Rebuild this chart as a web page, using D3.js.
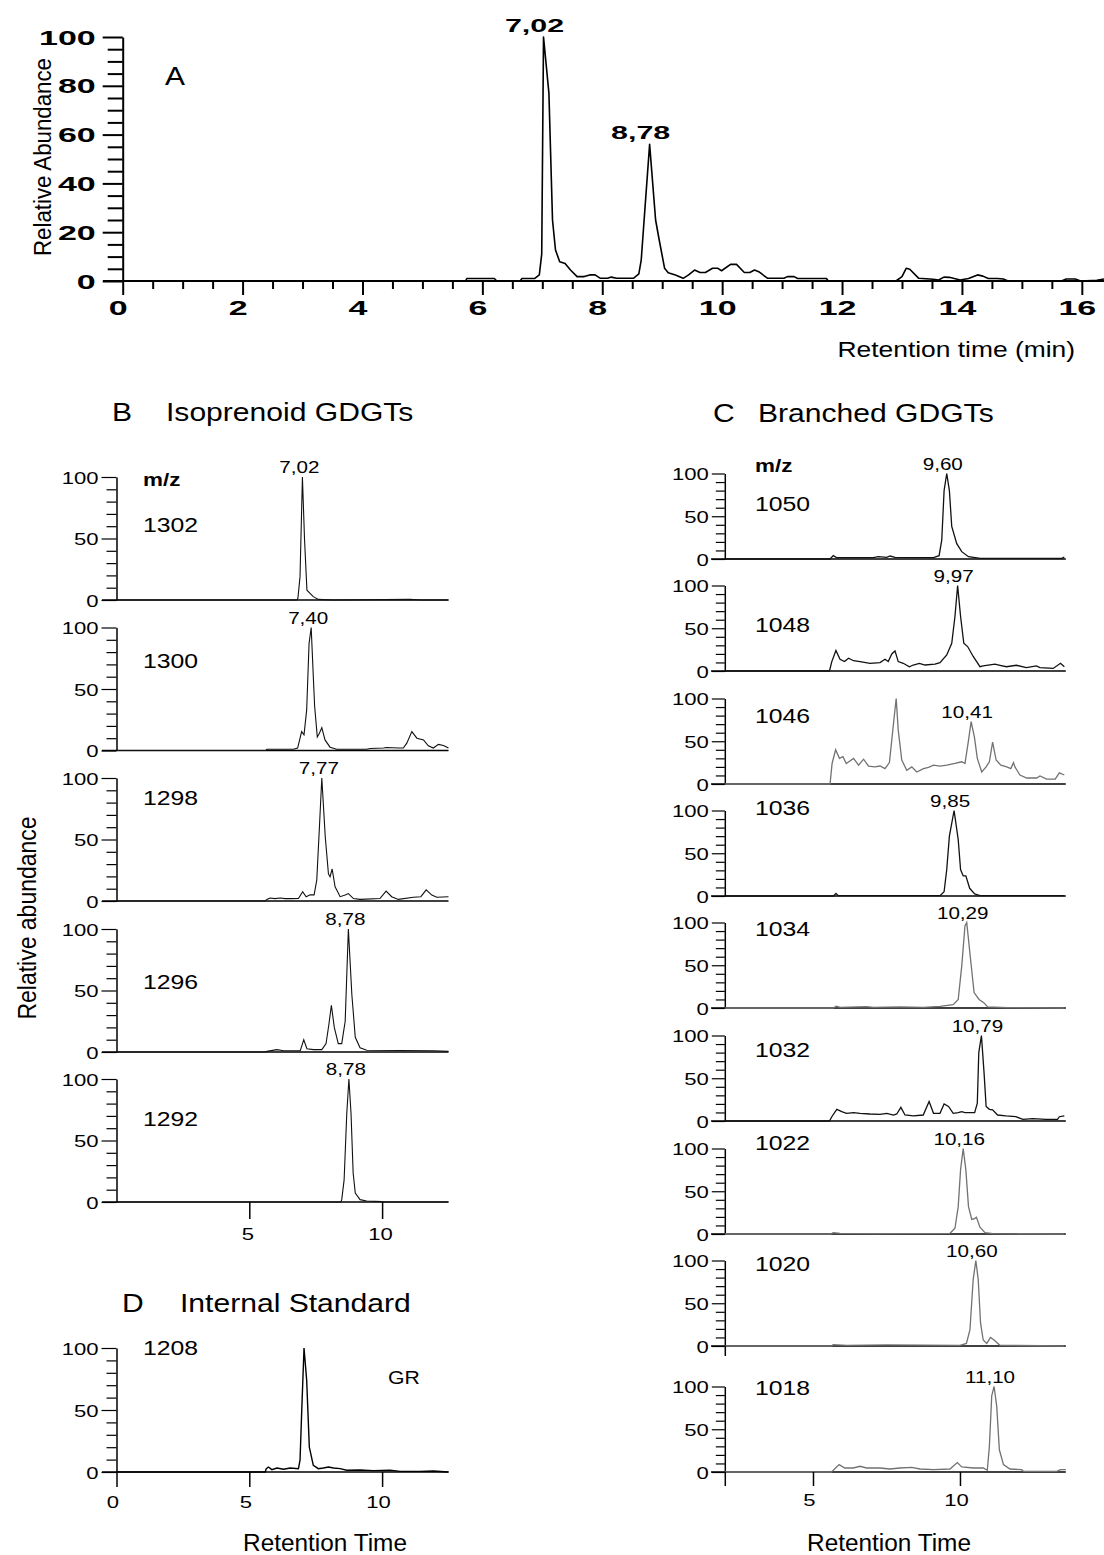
<!DOCTYPE html>
<html>
<head>
<meta charset="utf-8">
<script src="https://cdn.jsdelivr.net/npm/d3@7"></script>
<style>
  body { margin: 0; background: #fff; }
  svg { display: block; }
  text { font-family: "Liberation Sans", Arial, Helvetica, sans-serif; fill: #000; }
</style>
</head>
<body>
<div id="chart"></div>
<script>
// ---- data: [retention time (min), relative abundance (%)] ----
const traceA = [[0,0],[5.72,0],[5.74,1],[6.2,1],[6.24,0],[6.63,0],[6.66,1],[6.87,1],[6.95,2.5],[6.99,11],[7.02,100],[7.11,77],[7.17,25],[7.22,12.7],[7.29,7.9],[7.38,7.2],[7.47,4.5],[7.58,1.8],[7.70,1.8],[7.79,2.5],[7.88,2.5],[7.97,1.1],[8.09,1.1],[8.15,1.6],[8.24,1.1],[8.52,1.1],[8.61,2.9],[8.65,8.6],[8.71,29],[8.79,56],[8.89,25],[8.95,16.8],[9.04,5.2],[9.10,3.4],[9.22,2.5],[9.35,1.1],[9.44,2.5],[9.54,4.5],[9.63,3.5],[9.72,3.5],[9.84,5.2],[9.93,5.2],[9.99,4.2],[10.14,6.8],[10.24,6.8],[10.37,3.5],[10.46,3.5],[10.54,4.5],[10.61,3.8],[10.76,1.1],[11.03,1.1],[11.09,1.8],[11.20,1.8],[11.26,1],[11.74,1],[11.77,0],[12.90,0],[13.0,1.8],[13.07,5.2],[13.13,4.8],[13.28,1.1],[13.52,0.7],[13.61,0.4],[13.70,1.6],[13.79,1.5],[13.97,0.4],[14.11,1],[14.26,2.5],[14.35,2],[14.44,1],[14.59,1],[14.69,0.8],[14.77,0],[15.66,0],[15.74,0.8],[15.89,0.8],[15.98,0],[16.25,0.3],[16.37,0.8]];
const peaksA = ['7,02', '8,78'];

// B: isoprenoid GDGTs
const b1302 = [[0,0],[6.79,0],[6.83,1.4],[6.91,19],[7.0,100],[7.08,49],[7.17,8],[7.26,6],[7.41,2.7],[7.6,0.5],[8.17,0],[11.05,0.5],[11.5,0],[12.5,0]];
const b1300 = [[0,0],[5.62,0],[5.66,1],[6.66,1],[6.82,2],[6.97,15.4],[7.06,12.7],[7.16,33],[7.25,87],[7.33,100],[7.41,60],[7.46,36],[7.56,11],[7.64,14],[7.73,18.6],[7.85,8.6],[8.04,2.7],[8.29,1],[9.42,1],[9.55,1.6],[10.05,2],[10.17,2.4],[10.61,2],[10.80,2],[10.93,6],[11.12,15.4],[11.31,10],[11.56,8.6],[11.74,3.8],[11.93,2],[12.12,5],[12.31,4],[12.5,2]];
const b1298 = [[0,0],[5.6,0],[5.66,1.3],[5.78,2.4],[5.97,1.9],[6.16,2.4],[6.35,1.9],[6.54,1.9],[6.85,2],[7.01,7.5],[7.14,3.5],[7.29,5],[7.44,5],[7.54,17],[7.64,60],[7.73,100],[7.86,52],[7.98,22],[8.04,19.7],[8.12,26],[8.23,11.6],[8.42,3.5],[8.61,4.8],[8.73,6],[8.92,2],[9.17,1.3],[9.92,2],[10.15,8],[10.36,3.5],[10.61,1.3],[11.18,3],[11.46,3.5],[11.66,9],[11.87,4.8],[12.06,3],[12.5,3.5]];
const b1296 = [[0,0],[5.6,0],[5.66,0.5],[6.04,1.9],[6.29,1],[6.92,1],[7.05,10],[7.17,2.7],[7.42,1.9],[7.73,1.9],[7.89,6.8],[8.0,23],[8.09,38],[8.2,20],[8.35,6.8],[8.48,6.8],[8.61,25],[8.73,100],[8.86,47],[8.99,12],[9.17,3.5],[9.42,1.4],[11.93,1],[12.5,0.5]];
const b1292 = [[0,0],[8.45,0],[8.48,1.9],[8.57,18],[8.67,72],[8.75,100],[8.83,72],[8.91,23.6],[8.99,7.3],[9.17,1.9],[9.42,0.8],[9.99,0.3],[10.05,0],[12.5,0]];
const massesB = ['1302', '1300', '1298', '1296', '1292'];
const peaksB = ['7,02', '7,40', '7,77', '8,78', '8,78'];
const tracesB = [b1302, b1300, b1298, b1296, b1292];

// C: branched GDGTs
const c1050 = [[2,0],[5.58,0],[5.69,3.9],[5.80,1.6],[6.14,1.6],[7.05,1.6],[7.22,2.7],[7.51,1.9],[7.62,3.5],[7.79,1.9],[9.10,1.6],[9.29,3.9],[9.38,22],[9.46,80],[9.55,100],[9.64,80],[9.72,38],[9.89,18],[10.06,8.6],[10.29,2.7],[10.69,0.8],[13.46,0.8],[13.55,2.3]];
const c1048 = [[2,0],[5.56,0],[5.64,11],[5.78,24],[5.92,13.7],[6.07,11],[6.21,15],[6.38,12],[6.60,11],[6.94,9],[7.28,9.8],[7.45,13.7],[7.56,11],[7.68,20],[7.79,23.5],[7.90,11],[8.07,9],[8.28,5],[8.41,7],[8.62,9],[8.81,7],[9.15,8],[9.32,9.8],[9.55,18.8],[9.72,32.5],[9.83,64],[9.92,100],[10.02,64],[10.13,32.5],[10.26,28.6],[10.45,17],[10.68,5],[10.79,6],[11.19,8],[11.36,6.7],[11.58,5],[11.92,6.7],[12.26,4],[12.60,6],[12.72,4],[13.17,3],[13.42,9],[13.55,5]];
const c1046 = [[2,0],[5.58,0],[5.65,24],[5.77,40],[5.90,30],[6.02,32],[6.13,24],[6.38,30],[6.55,22],[6.72,29],[6.89,21],[7.11,20],[7.28,21],[7.45,18],[7.60,25],[7.74,71],[7.83,100],[7.90,63],[8.02,28],[8.19,16],[8.36,20],[8.53,14],[8.76,18],[8.93,19.5],[9.10,22],[9.32,21],[9.55,22],[9.83,24],[10.06,26],[10.17,24],[10.29,51],[10.38,73],[10.49,55],[10.59,30],[10.74,14],[10.89,20],[11.0,26],[11.11,49],[11.23,28],[11.39,22],[11.59,20],[11.73,18],[11.82,25],[11.87,20],[12.04,10.5],[12.27,7],[12.61,7],[12.72,9.4],[12.95,5.8],[13.24,5.8],[13.38,13],[13.55,10.5]];
const c1036 = [[2,0],[5.70,0],[5.78,3],[5.86,0.4],[9.32,0.4],[9.46,5],[9.55,31],[9.64,70],[9.80,100],[9.94,66],[10.02,31],[10.11,23.5],[10.20,23.5],[10.33,9],[10.50,2.4],[10.68,0.4],[13.55,0.4]];
const c1034 = [[2,0],[5.68,0],[5.80,2],[5.92,0.8],[6.82,1.6],[7.05,0.8],[7.96,1.2],[8.75,0.8],[9.32,2],[9.77,4],[9.94,10],[10.06,49],[10.17,96],[10.23,100],[10.36,57],[10.48,18],[10.65,10],[10.82,6],[10.94,1.2],[11.62,0.4],[13.55,0]];
const c1032 = [[2,0],[5.56,0],[5.64,5],[5.81,13.7],[5.98,11],[6.14,9],[6.38,9.8],[6.60,9],[6.94,8.2],[7.28,7.8],[7.51,9],[7.74,7],[7.85,8.2],[7.99,16],[8.13,7],[8.41,5.9],[8.75,7],[8.95,22.7],[9.10,9],[9.32,9],[9.46,20],[9.61,17],[9.77,9],[9.94,9.8],[10.06,11],[10.17,9.8],[10.50,9.8],[10.59,20.8],[10.64,80],[10.73,100],[10.82,56],[10.89,17],[11.0,13.7],[11.11,13],[11.28,7],[11.56,5.9],[11.90,5],[12.14,2],[12.48,2.7],[12.93,2],[13.32,2],[13.38,5],[13.55,5.9]];
const c1022 = [[2,0],[5.60,0],[5.69,1.6],[5.92,0.8],[7.05,0.4],[9.66,0.8],[9.83,6.7],[9.94,32],[10.02,75],[10.11,100],[10.20,75],[10.29,32],[10.40,17],[10.50,18],[10.56,19.6],[10.68,8],[10.85,1.6],[11.13,0.4],[13.55,0]];
const c1020 = [[2,0],[5.62,0],[5.69,1.6],[6.14,0.8],[7.51,1.2],[10.0,0.8],[10.22,3],[10.34,19],[10.45,78],[10.54,100],[10.62,78],[10.70,27],[10.79,7],[10.91,3],[11.04,10],[11.16,7],[11.36,0.8],[13.55,0]];
const c1018 = [[2,0],[5.62,0],[5.69,2],[5.89,8.6],[6.08,4.7],[6.37,4.7],[6.60,6.7],[6.82,4.7],[7.28,4.7],[7.62,3.5],[7.96,4.7],[8.36,5.5],[8.64,3.5],[9.10,2.7],[9.66,3.5],[9.91,11],[10.06,5.9],[10.45,4.7],[10.79,4.7],[10.93,2],[11.0,30],[11.08,89],[11.16,100],[11.25,77],[11.34,26],[11.48,8.6],[11.70,3.5],[12.10,2.7],[12.16,0.8],[13.29,0.8],[13.42,2.7],[13.6,2.7]];
const massesC = ['1050', '1048', '1046', '1036', '1034', '1032', '1022', '1020', '1018'];
const peaksC = ['9,60', '9,97', '10,41', '9,85', '10,29', '10,79', '10,16', '10,60', '11,10'];
const tracesC = [c1050, c1048, c1046, c1036, c1034, c1032, c1022, c1020, c1018];

// D: internal standard
const d1208 = [[0,0],[5.6,0],[5.64,2.7],[5.72,4],[5.85,1.9],[6.04,3.2],[6.29,2.2],[6.54,3.2],[6.85,2.7],[6.91,9.5],[6.97,47],[7.06,100],[7.16,74],[7.26,20],[7.41,5.4],[7.6,2.7],[7.79,3.2],[7.98,4],[8.17,3.2],[8.42,2.7],[8.67,1.4],[9.17,1.6],[9.67,1.1],[10.30,1.4],[10.68,0.5],[11.43,0.5],[11.93,0.8],[12.5,0]];

// ---- layout and style (kept apart from the data) ----
const width = 1104, height = 1555;
const greyC = [false, false, true, false, true, false, true, true, true];
const bBottoms = [600, 750.5, 901, 1052, 1202];
const cBottoms = [559, 671, 784, 896, 1008, 1121, 1234, 1346, 1472];
// where the m/z number sits below each panel's 100 line
const bMassOffset = [55, 40.5, 27, 60, 47];
const cMassOffset = [37, 46.5, 24.5, 4.5, 13.5, 21, 1.5, 10.5, 8.5];

const svg = d3.select('#chart').append('svg')
  .attr('width', width)
  .attr('height', height)
  .attr('viewBox', `0 0 ${width} ${height}`);

// text helper: the figure is stretched sideways, so glyphs get scale(sx,1)
function label(g, x, y, str, o = {}) {
  const sx = o.sx || 1.18;
  const rot = o.rotate ? ' rotate(-90)' : '';
  const t = g.append('text')
    .attr('transform', `translate(${x},${y}) scale(${sx},1)${rot}`)
    .attr('text-anchor', o.anchor || 'start')
    .style('font-size', (o.size || 20) + 'px')
    .style('font-weight', o.weight || 'normal')
    .text(str);
  if (o.len) t.attr('textLength', o.len).attr('lengthAdjust', 'spacingAndGlyphs');
  return t;
}

const num = s => +s.replace(',', '.');

// find the local maximum near a labelled retention time
function peakOf(trace, t) {
  const near = trace.filter(d => Math.abs(d[0] - t) < 0.25);
  return d3.greatest(near, d => d[1]);
}

// y axis with long major and short minor ticks
function yAxis(g, ys, x, step, majLen, minLen, font) {
  const ax = g.append('g')
    .attr('transform', `translate(${x},0)`)
    .call(d3.axisLeft(ys).tickValues(d3.range(0, 100.1, step)).tickSizeOuter(0));
  ax.select('.domain').attr('stroke-width', font.axisW);
  ax.selectAll('.tick line')
    .attr('x2', d => (d % font.every === 0 ? -majLen : -minLen))
    .attr('stroke-width', font.tickW);
  ax.selectAll('.tick text')
    .text(d => (d % font.every === 0 ? d : ''))
    .attr('x', null).attr('dy', null)
    .attr('transform', `translate(${-majLen - font.gap},${font.dy}) scale(${font.sx},1)`)
    .style('font-size', font.size + 'px')
    .style('font-weight', font.weight || 'normal')
    .attr('font-family', null);
  return ax;
}

function xBaseline(g, xs, y, left, w) {
  g.append('line')
    .attr('x1', left).attr('x2', xs.range()[1])
    .attr('y1', y).attr('y2', y)
    .attr('stroke', '#000').attr('stroke-width', w);
}

function xTicks(g, xs, y, values, len, labels, font) {
  const ax = g.append('g')
    .attr('transform', `translate(0,${y})`)
    .call(d3.axisBottom(xs).tickValues(values).tickSize(len).tickSizeOuter(0));
  ax.select('.domain').remove();
  ax.selectAll('.tick line').attr('stroke-width', font.tickW);
  ax.selectAll('.tick text')
    .text(d => (labels.includes(d) ? d : ''))
    .attr('y', null).attr('dy', null)
    .attr('transform', `translate(${font.dx},${font.base}) scale(${font.sx},1)`)
    .style('font-size', font.size + 'px')
    .style('font-weight', font.weight || 'normal')
    .attr('font-family', null);
  return ax;
}

// ================= panel A =================
const xA = d3.scaleLinear().domain([0, 16.37]).range([122.7, 1104]);
const yA = d3.scaleLinear().domain([0, 100]).range([281, 37]);
const gA = svg.append('g');

xBaseline(gA, xA, yA(0), 103, 2);
yAxis(gA, yA, xA(0), 5, 20, 15, { every: 20, gap: 7, dy: 7, sx: 1.7, size: 20, weight: 'bold', axisW: 2, tickW: 2 });
const halfSteps = d3.range(0, 16.01, 0.5);
const xaA = xTicks(gA, xA, yA(0), halfSteps, 8, d3.range(0, 17, 2),
  { dx: -5, base: 34, sx: 1.7, size: 20, weight: 'bold', tickW: 2 });
xaA.selectAll('.tick line').attr('y2', d => (d % 2 === 0 ? 14 : 8));

gA.append('path')
  .datum(traceA)
  .attr('fill', 'none')
  .attr('stroke', '#000')
  .attr('stroke-width', 1.6)
  .attr('stroke-linejoin', 'round')
  .attr('d', d3.line().x(d => xA(d[0])).y(d => yA(d[1])));

peaksA.forEach(p => {
  const pk = peakOf(traceA, num(p));
  label(gA, xA(pk[0]) - 9, yA(pk[1]) - 5, p, { anchor: 'middle', size: 19, weight: 'bold', sx: 1.6 });
});
label(gA, 165, 85, 'A', { size: 26, sx: 1.15 });
label(gA, 51, 157, 'Relative Abundance', { anchor: 'middle', size: 21, rotate: true, sx: 1.1, len: 198 });
label(gA, 1075, 357, 'Retention time (min)', { anchor: 'end', size: 22, sx: 1.2 });

// ================= panel B =================
const xB = d3.scaleLinear().domain([0, 12.5]).range([116.5, 448.5]);
const smallFont = { every: 50, gap: 3, dy: 6, sx: 1.3, size: 17, axisW: 1.5, tickW: 1.2 };
const gB = svg.append('g');
label(gB, 112, 421, 'B', { size: 25.5 });
label(gB, 166, 421, 'Isoprenoid GDGTs', { size: 25.5 });
label(gB, 143, 486, 'm/z', { size: 19, weight: 'bold' });
label(gB, 36, 918, 'Relative abundance', { anchor: 'middle', size: 23, rotate: true, sx: 1.15 });

tracesB.forEach((tr, i) => {
  const y0 = bBottoms[i];
  const ys = d3.scaleLinear().domain([0, 100]).range([y0, y0 - 123]);
  const g = gB.append('g');
  xBaseline(g, xB, y0, 102, 1.5);
  yAxis(g, ys, xB(0), 10, 15, 10, smallFont);
  g.append('path')
    .datum(tr)
    .attr('fill', 'none')
    .attr('stroke', '#111')
    .attr('stroke-width', 1.1)
    .attr('d', d3.line().x(d => xB(d[0])).y(d => ys(d[1])));
  const pk = peakOf(tr, num(peaksB[i]));
  label(g, xB(pk[0]) - 3, ys(pk[1]) - 4, peaksB[i], { anchor: 'middle', size: 16.5, sx: 1.25 });
  label(g, 143, ys(100) + bMassOffset[i], massesB[i], { size: 21 });
  if (i === tracesB.length - 1) {
    xTicks(g, xB, y0, [5, 10], 17, [5, 10], { dx: -2, base: 38, sx: 1.3, size: 17, tickW: 1.5 });
  }
});

// ================= panel D =================
const gD = svg.append('g');
const yD = d3.scaleLinear().domain([0, 100]).range([1472, 1348]);
label(gD, 122, 1312, 'D', { size: 25.5 });
label(gD, 180, 1312, 'Internal Standard', { size: 25.5 });
xBaseline(gD, xB, yD(0), 102, 1.5);
yAxis(gD, yD, xB(0), 10, 15, 10, smallFont);
gD.append('path')
  .datum(d1208)
  .attr('fill', 'none')
  .attr('stroke', '#000')
  .attr('stroke-width', 1.4)
  .attr('d', d3.line().x(d => xB(d[0])).y(d => yD(d[1])));
xTicks(gD, xB, yD(0), [0, 5, 10], 15, [0, 5, 10], { dx: -4, base: 36, sx: 1.3, size: 17, tickW: 1.5 });
label(gD, 143, 1355, '1208', { size: 21 });
label(gD, 388, 1384, 'GR', { size: 18 });
label(gD, 325, 1551, 'Retention Time', { anchor: 'middle', size: 23, sx: 1.06 });

// ================= panel C =================
const xC = d3.scaleLinear().domain([2, 13.6]).range([724.8, 1065.8]);
const gC = svg.append('g');
label(gC, 713, 422, 'C', { size: 25.5 });
label(gC, 758, 422, 'Branched GDGTs', { size: 25.5 });
label(gC, 755, 472, 'm/z', { size: 19, weight: 'bold' });

tracesC.forEach((tr, i) => {
  const y0 = cBottoms[i];
  const ys = d3.scaleLinear().domain([0, 100]).range([y0, y0 - 85.5]);
  const g = gC.append('g');
  xBaseline(g, xC, y0, 711, 1.5);
  yAxis(g, ys, xC(2), 10, 13, 9, smallFont);
  g.append('path')
    .datum(tr)
    .attr('fill', 'none')
    .attr('stroke', greyC[i] ? '#727272' : '#111')
    .attr('stroke-width', 1.3)
    .attr('d', d3.line().x(d => xC(d[0])).y(d => ys(d[1])));
  const pk = peakOf(tr, num(peaksC[i]));
  label(g, xC(pk[0]) - 4, ys(pk[1]) - 4, peaksC[i], { anchor: 'middle', size: 16.5, sx: 1.25 });
  label(g, 755, ys(100) + cMassOffset[i], massesC[i], { size: 21 });
  if (i === 7) {
    xTicks(g, xC, y0, [2], 10, [], { dx: 0, base: 0, sx: 1, size: 1, tickW: 1.5 });
  }
  if (i === tracesC.length - 1) {
    xTicks(g, xC, y0, [2, 5, 10], 14, [5, 10], { dx: -4, base: 34, sx: 1.3, size: 17, tickW: 1.5 });
  }
});
label(gC, 889, 1551, 'Retention Time', { anchor: 'middle', size: 23, sx: 1.06 });
</script>
</body>
</html>
